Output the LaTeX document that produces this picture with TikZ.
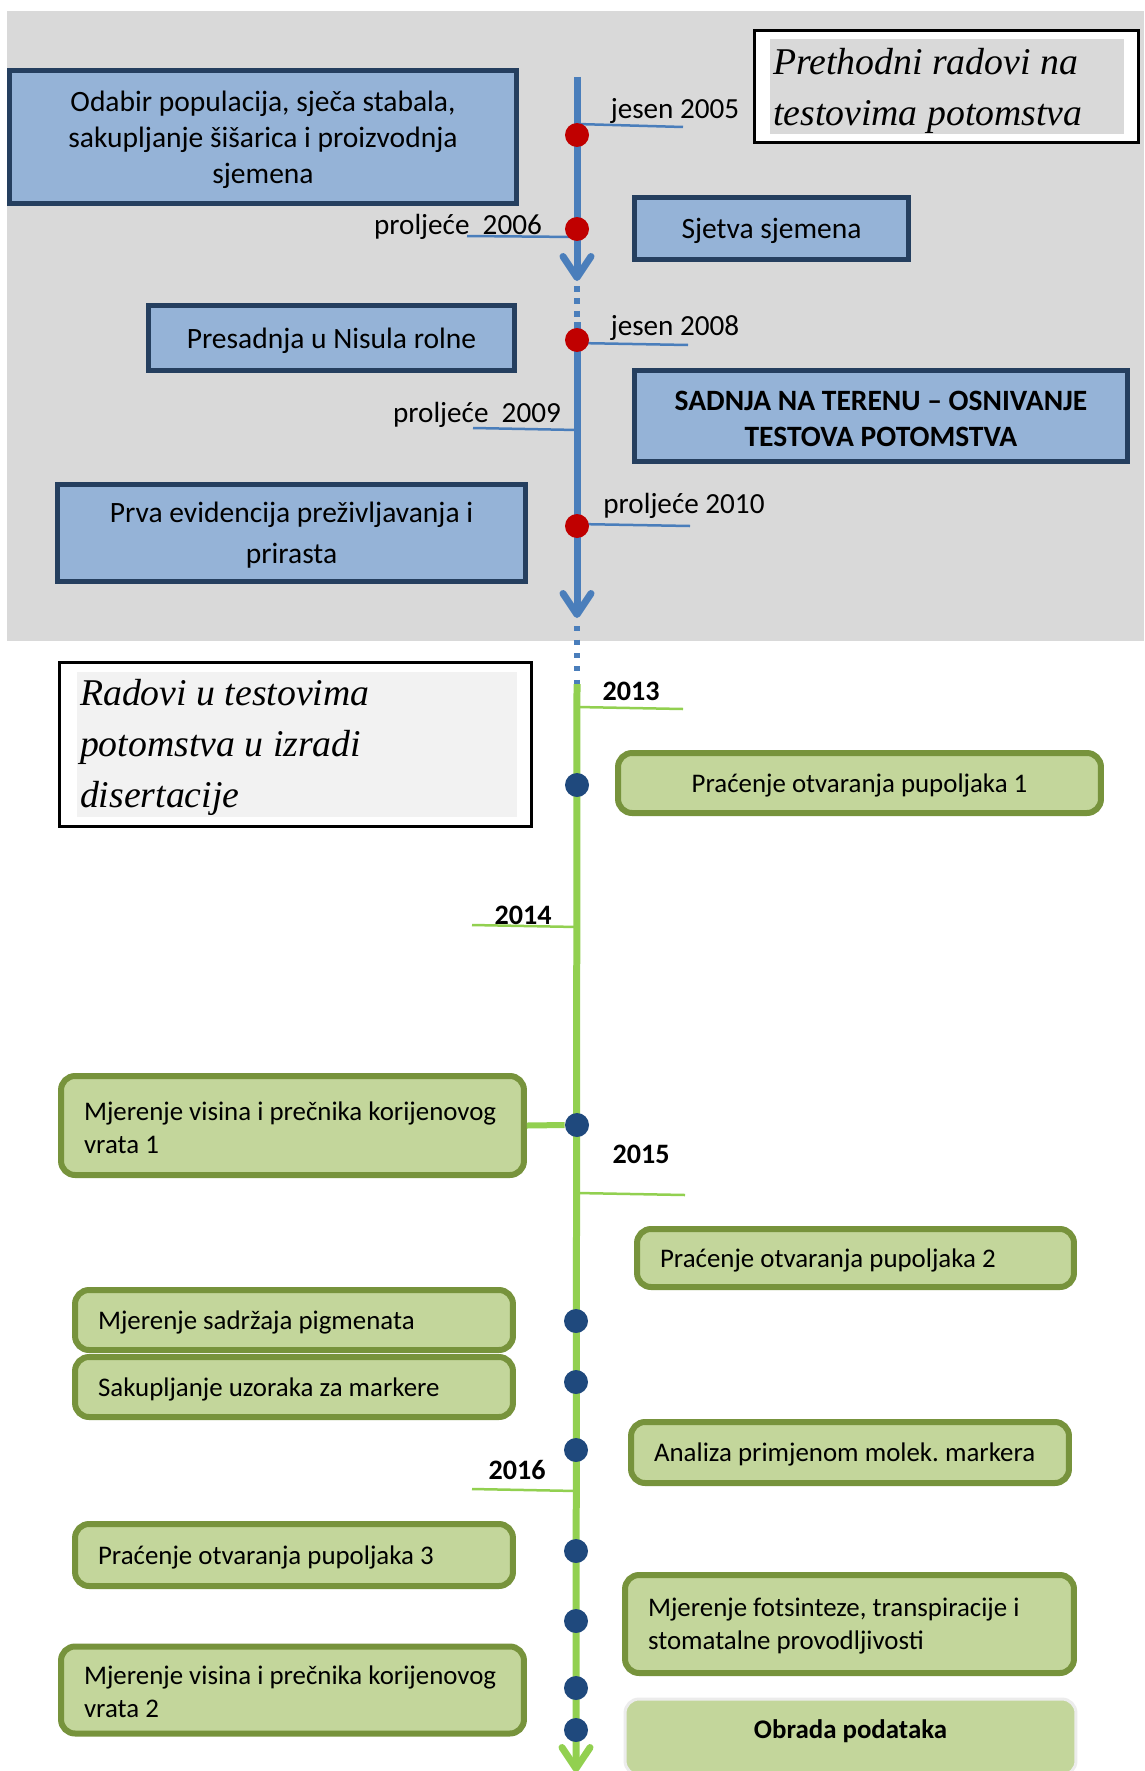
\documentclass[tikz,border=0pt]{standalone}
\usepackage{fontspec}
\setmainfont{Carlito}
\newfontfamily\tnrfont{Liberation Serif}
\usetikzlibrary{arrows.meta}
\definecolor{bgray}{HTML}{D9D9D9}
\definecolor{lgray}{HTML}{F2F2F2}
\definecolor{bfill}{HTML}{95B3D7}
\definecolor{bline}{HTML}{253F5F}
\definecolor{tblue}{HTML}{4A7EBB}
\definecolor{tred}{HTML}{C00000}
\definecolor{gfill}{HTML}{C3D69B}
\definecolor{gline}{HTML}{77933C}
\definecolor{tgreen}{HTML}{92D050}
\definecolor{dnavy}{HTML}{1F497D}
\frenchspacing
\begin{document}
\begin{tikzpicture}[x=0.02cm,y=-0.02cm,
  bluebox/.style={draw=bline,line width=0.1cm,fill=bfill,align=flush center,inner sep=0pt,font=\fontsize{16.8}{20.4}\selectfont,execute at begin node={\rule{0pt}{0.86em}}},
  greenbox/.style={draw=gline,line width=0.12cm,fill=gfill,rounded corners=0.28cm,align=flush left,inner xsep=0.46cm,inner ysep=0pt,font=\fontsize{15.3}{18.8}\selectfont,execute at begin node={\rule{0pt}{0.86em}}},
  reddot/.style={circle,fill=tred,inner sep=0pt,minimum size=0.48cm},
  navydot/.style={circle,fill=dnavy,inner sep=0pt,minimum size=0.48cm},
  seasonlab/.style={inner sep=0pt,font=\fontsize{16.6}{20}\selectfont},
  yearlab/.style={inner sep=0pt,font=\fontsize{16}{20}\selectfont\bfseries},
  bluetick/.style={tblue,line width=0.05cm},
  greentick/.style={tgreen,line width=0.05cm},
  frame/.style={draw=black,line width=0.05cm,fill=white,inner sep=0pt},
  titletext/.style={inner xsep=0.06cm,inner ysep=0pt,align=flush left,font=\tnrfont\itshape\fontsize{21.5}{29}\selectfont},
  tip/.style={-{Straight Barb[round,length=0.42cm,width=0.56cm]}}]
% page and shaded part
\useasboundingbox (0,0) rectangle (1144,1771);
\fill[white] (0,0) rectangle (1144,1771);
\fill[bgray] (7,11) rectangle (1144,641);

% timeline
\coordinate (bstart) at (577,77);
\coordinate (barrow1) at (577,281);
\coordinate (bgap) at (577,322);
\coordinate (barrow2) at (577,618);
\coordinate (gstart) at (577,684);
\coordinate (gend) at (576,1772);
\draw[tblue,line width=0.14cm,tip] (bstart) -- (barrow1);
\draw[tblue,line width=0.12cm,dash pattern=on 0.12cm off 0.13cm] (577,286) -- (bgap);
\draw[tblue,line width=0.14cm,tip] (bgap) -- (barrow2);
\draw[tblue,line width=0.12cm,dash pattern=on 0.1cm off 0.17cm] (577,626) -- (gstart);
\draw[tgreen,line width=0.14cm,tip] (gstart) -- (gend);

% label ticks
\draw[bluetick] (577,124) -- (683,127);
\draw[bluetick] (467,236) -- (577,237);
\draw[bluetick] (577,343) -- (688,345);
\draw[bluetick] (473,428) -- (577,430);
\draw[bluetick] (577,524) -- (690,526);
\draw[greentick] (577,707) -- (683,709);
\draw[greentick] (472,925) -- (577,927);
\draw[greentick] (577,1193) -- (685,1195);
\draw[greentick] (472,1489) -- (577,1491);

% dots
\node[reddot] (r1) at (577,135) {};
\node[reddot] (r2) at (577,229) {};
\node[reddot] (r3) at (577,340) {};
\node[reddot] (r4) at (577,526) {};
\node[navydot] (n1) at (577,785) {};
\node[navydot] (n2) at (577,1125) {};
\node[navydot] (n3) at (576,1321) {};
\node[navydot] (n4) at (576,1382) {};
\node[navydot] (n5) at (576,1450) {};
\node[navydot] (n6) at (576,1551) {};
\node[navydot] (n7) at (576,1621) {};
\node[navydot] (n8) at (576,1688) {};
\node[navydot] (n9) at (576,1730) {};

% season and year labels
\node[seasonlab] (j05) at (675,111) {jesen 2005};
\node[seasonlab] (p06) at (458,227) {proljeće\ \ 2006};
\node[seasonlab] (j08) at (675,328) {jesen 2008};
\node[seasonlab] (p09) at (477,415) {proljeće\ \ 2009};
\node[seasonlab] (p10) at (684,506) {proljeće 2010};
\node[yearlab] (y13) at (631,691) {2013};
\node[yearlab] (y14) at (523,915) {2014};
\node[yearlab] (y15) at (641,1154) {2015};
\node[yearlab] (y16) at (517,1470) {2016};

% earlier work
\node[bluebox,text width=10.14cm,minimum height=2.66cm] (odabir) at (263,137) {Odabir populacija, sječa stabala,\\sakupljanje šišarica i proizvodnja\\sjemena};
\node[bluebox,text width=5.48cm,minimum height=1.24cm] (sjetva) at (771.5,228.5) {Sjetva sjemena};
\node[bluebox,text width=7.32cm,minimum height=1.3cm] (presadnja) at (331.5,338) {Presadnja u Nisula rolne};
\node[bluebox,text width=9.86cm,minimum height=1.82cm,font=\fontsize{16.8}{20.4}\selectfont\bfseries] (sadnja) at (881,416) {SADNJA NA TERENU – OSNIVANJE\\TESTOVA POTOMSTVA};
\node[bluebox,text width=9.36cm,minimum height=1.94cm,font=\fontsize{16.8}{23.2}\selectfont] (prva) at (291.5,533) {Prva evidencija preživljavanja i\\prirasta};

% section titles
\node[frame,minimum width=7.69cm,minimum height=2.25cm] (pframe) at (946.5,86.5) {};
\node[titletext,fill=bgray,text width=6.96cm,minimum height=1.86cm] (ptitle) at (947,86.5) {\rule{0pt}{0.95em}Prethodni radovi na\\testovima potomstva};
\node[frame,minimum width=9.45cm,minimum height=3.29cm] (rframe) at (295.5,744.5) {};
\node[titletext,fill=lgray,text width=8.68cm,minimum height=2.9cm] (rtitle) at (297,744.5) {\rule{0pt}{0.85em}Radovi u testovima\\potomstva u izradi\\disertacije};

% dissertation work
\node[greenbox,align=center,minimum width=9.66cm,minimum height=1.2cm] (prac1) at (859.5,783) {Praćenje otvaranja pupoljaka 1};
\node[greenbox,text width=8.34cm,minimum height=1.98cm] (visina1) at (292.5,1125.5) {Mjerenje visina i prečnika korijenovog\\vrata 1};
\draw[tgreen,line width=0.12cm] (visina1.east) -- (n2.west);
\node[greenbox,text width=7.82cm,minimum height=1.16cm] (prac2) at (855.5,1258) {Praćenje otvaranja pupoljaka 2};
\node[greenbox,text width=7.84cm,minimum height=1.2cm] (pigment) at (294,1320) {Mjerenje sadržaja pigmenata};
\node[greenbox,text width=7.84cm,minimum height=1.2cm] (uzorci) at (294,1387) {Sakupljanje uzoraka za markere};
\node[greenbox,text width=7.84cm,minimum height=1.22cm] (analiza) at (850,1452.5) {Analiza primjenom molek. markera};
\node[greenbox,text width=7.84cm,minimum height=1.24cm] (prac3) at (294,1555) {Praćenje otvaranja pupoljaka 3};
\node[greenbox,text width=8.06cm,minimum height=1.96cm] (fotosint) at (849.5,1624) {Mjerenje fotsinteze, transpiracije i\\stomatalne provodljivosti};
\node[greenbox,text width=8.34cm,minimum height=1.74cm] (visina2) at (292.5,1690) {Mjerenje visina i prečnika korijenovog\\vrata 2};
\node[greenbox,draw=gray!15,line width=0.06cm,align=center,minimum width=9.02cm,minimum height=1.52cm,text depth=0.39cm,execute at begin node={},font=\fontsize{15.3}{18.8}\selectfont\bfseries] (obrada) at (850.5,1737) {Obrada podataka};
\end{tikzpicture}
\end{document}
